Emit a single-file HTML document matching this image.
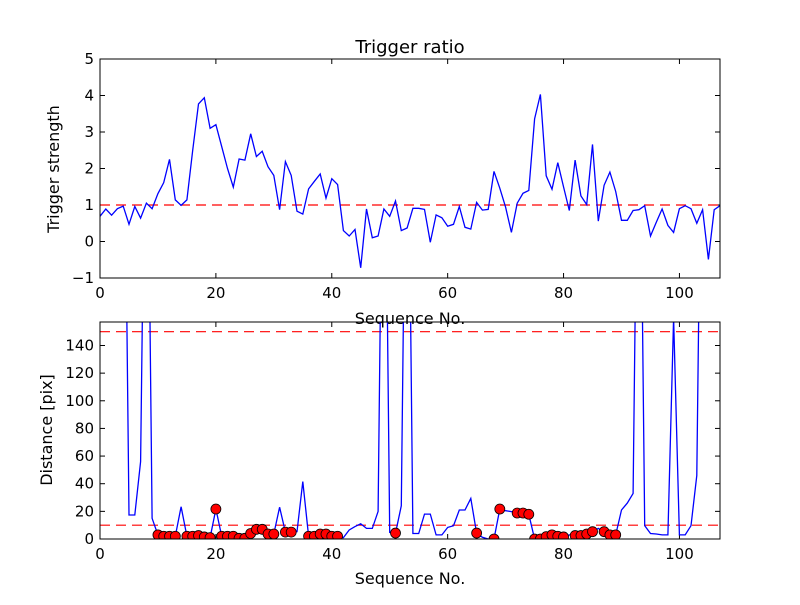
<!DOCTYPE html>
<html><head><meta charset="utf-8"><style>
body{margin:0;background:#fff}
svg text{font-family:"DejaVu Sans","Liberation Sans",sans-serif;fill:#000}
</style></head><body>
<svg id="chart" width="800" height="600" xmlns="http://www.w3.org/2000/svg">
<defs>
<clipPath id="c1"><rect x="100" y="59" width="620" height="219"/></clipPath>
<clipPath id="c2"><rect x="100" y="322" width="620" height="217"/></clipPath>
</defs>
<rect width="800" height="600" fill="#fff"/>
<text x="410" y="53" font-size="18" text-anchor="middle">Trigger ratio</text>
<g id="top"></g>
<g id="bot"></g>
</svg>
<script>
const ratioValues=[0.69,0.89,0.72,0.9,0.97,0.47,0.96,0.64,1.05,0.9,1.31,1.61,2.25,1.14,0.99,1.14,2.5,3.77,3.94,3.1,3.2,2.6,2.0,1.49,2.26,2.23,2.95,2.33,2.47,2.05,1.81,0.87,2.19,1.81,0.83,0.75,1.44,1.65,1.85,1.19,1.72,1.56,0.3,0.15,0.33,-0.72,0.89,0.1,0.15,0.89,0.69,1.11,0.3,0.37,0.91,0.91,0.88,-0.02,0.73,0.65,0.42,0.47,0.96,0.39,0.34,1.07,0.86,0.88,1.92,1.46,0.94,0.25,1.05,1.32,1.4,3.36,4.03,1.8,1.43,2.16,1.49,0.85,2.23,1.25,1.01,2.66,0.56,1.54,1.9,1.37,0.58,0.58,0.85,0.87,0.98,0.15,0.53,0.89,0.44,0.25,0.9,0.98,0.9,0.5,0.87,-0.49,0.87,0.98];
const distValues=[null,null,null,null,400,17.4,17.4,56,400,15,3,2,2,2,23.4,2,2,2.5,1.5,1,21.7,2,2,2,0.5,0.5,4,7,7,3.6,3.6,23,5,5,5.3,41.5,2,2,3.6,3.6,2,2,1,6.5,9,11,7.7,7.7,20,400,4.8,4.3,24,400,4,4,18,18,3,3,8.4,9.6,21,21,29.4,4.3,1.2,0,0,21.7,20.5,19.8,18.8,18.8,17.9,0,0,1.7,3,2,1.5,3,2.5,2.5,3.6,5.3,7.7,5.3,3,3,21,26,33,400,9.6,4,3.6,3,3,160,3,3,9.6,46,400];
const markedIdx=[10,11,12,13,15,16,17,18,19,20,21,22,23,24,25,26,27,28,29,30,32,33,36,37,38,39,40,41,51,65,68,69,72,73,74,75,76,77,78,79,80,82,83,84,85,87,88,89];
const xTicks=[0,20,40,60,80,100];
const topYTicks=[-1,0,1,2,3,4,5];
const botYTicks=[0,20,40,60,80,100,120,140];
const topThreshold=[1];
const botThresholds=[10,150];

const NS="http://www.w3.org/2000/svg";
function mk(tag,attrs,parent){const e=document.createElementNS(NS,tag);for(const k in attrs)e.setAttribute(k,attrs[k]);parent.appendChild(e);return e;}
const X0=100,X1=720,XMAX=107;
const xs=v=>X0+(X1-X0)*v/XMAX;

function panel(g,top,bottom,ymin,ymax,yTicks,prefix){
  const ys=v=>bottom-(bottom-top)*(v-ymin)/(ymax-ymin);
  xTicks.forEach(t=>{
    const x=xs(t);
    const a=mk('line',{x1:x,x2:x,y1:bottom,y2:bottom-5,stroke:'#000'},g);
    
    mk('line',{x1:x,x2:x,y1:top,y2:top+5,stroke:'#000'},g);
    const tx=mk('text',{x:x,y:bottom+20,'font-size':15,'text-anchor':'middle'},g);
    tx.textContent=t;
    
  });
  yTicks.forEach(t=>{
    const y=ys(t);
    const a=mk('line',{x1:X0,x2:X0+5,y1:y,y2:y,stroke:'#000'},g);
    
    mk('line',{x1:X1,x2:X1-5,y1:y,y2:y,stroke:'#000'},g);
    const tx=mk('text',{x:X0-6,y:y+5,'font-size':15,'text-anchor':'end'},g);
    tx.textContent=String(t).replace('-','\u2212');
    
  });
  return ys;
}

const gt=document.getElementById('top');
const ysT=panel(gt,59,278,-1,5,topYTicks,'top-');
topThreshold.forEach(v=>{
  const l=mk('line',{x1:X0,x2:X1,y1:ysT(v),y2:ysT(v),stroke:'#f00','stroke-dasharray':'10,6','stroke-width':1.2},gt);
  
});
let d='';ratioValues.forEach((v,i)=>{d+=(i?'L':'M')+xs(i).toFixed(1)+','+ysT(v).toFixed(1);});
const p1=mk('path',{d:d,fill:'none',stroke:'#00f','stroke-width':1.3,'clip-path':'url(#c1)'},gt);

const f1=mk('rect',{x:X0,y:59,width:620,height:219,fill:'none',stroke:'#000'},gt);

const t1=mk('text',{x:410,y:324,'font-size':16,'text-anchor':'middle'},gt);t1.textContent='Sequence No.';

const t2=mk('text',{x:0,y:0,'font-size':16,'text-anchor':'middle',transform:'translate(59,169) rotate(-90)'},gt);t2.textContent='Trigger strength';


const gb=document.getElementById('bot');
const ysB=panel(gb,322,539,0,157,botYTicks,'bottom-');
botThresholds.forEach(v=>{
  const l=mk('line',{x1:X0,x2:X1,y1:ysB(v),y2:ysB(v),stroke:'#f00','stroke-dasharray':'10,6','stroke-width':1.2},gb);
  
});
d='';let pen=false;
distValues.forEach((v,i)=>{if(v===null){pen=false;return;}d+=(pen?'L':'M')+xs(i).toFixed(1)+','+ysB(v).toFixed(1);pen=true;});
const p2=mk('path',{d:d,fill:'none',stroke:'#00f','stroke-width':1.3,'clip-path':'url(#c2)'},gb);

const mg=mk('g',{'clip-path':'url(#c2)'},gb);
markedIdx.forEach(i=>{
  const c=mk('circle',{cx:xs(i),cy:ysB(distValues[i]),r:5,fill:'#f00',stroke:'#000','stroke-width':0.8},mg);
  
  
});
const f2=mk('rect',{x:X0,y:322,width:620,height:217,fill:'none',stroke:'#000'},gb);

const t3=mk('text',{x:410,y:584,'font-size':16,'text-anchor':'middle'},gb);t3.textContent='Sequence No.';

const t4=mk('text',{x:0,y:0,'font-size':16,'text-anchor':'middle',transform:'translate(52,430) rotate(-90)'},gb);t4.textContent='Distance [pix]';

</script>
</body></html>
